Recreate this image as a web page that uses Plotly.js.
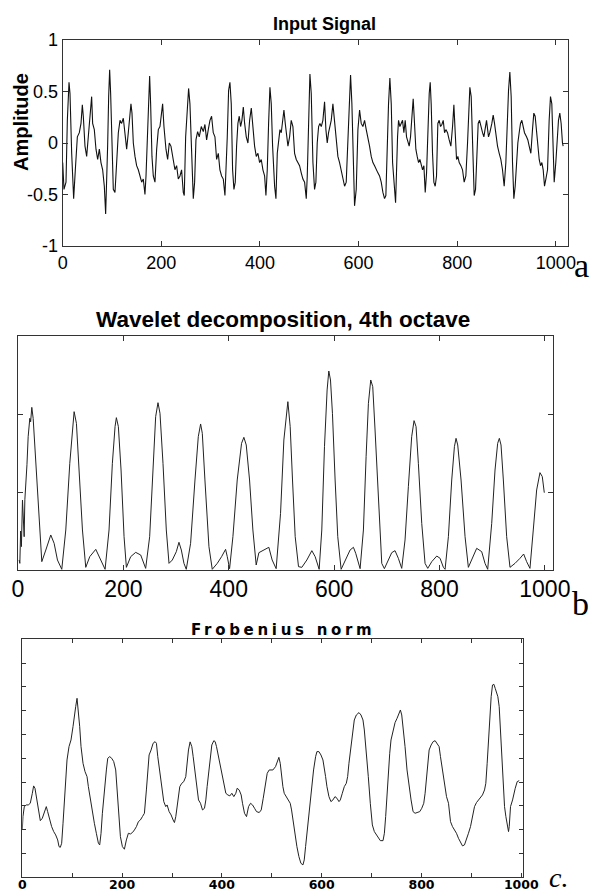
<!DOCTYPE html>
<html>
<head>
<meta charset="utf-8">
<script src="https://cdn.plot.ly/plotly-3.0.1.min.js"></script>
<style>
  html, body { margin: 0; padding: 0; background: #fff; }
  #chart { width: 590px; height: 895px; }
  .subplot.x3y3 .xtick text { letter-spacing: 3px; }
  g.annotation[data-index="3"] text { letter-spacing: 3.7px; }
</style>
</head>
<body>
<div id="chart"></div>
<script>
// ---- Panel a: input signal ----
const inputX = [0,2.6,6.7,9.4,12.8,14.8,18.2,22.2,25.6,29.7,33.7,37.1,39.8,41.8,45.2,48.6,51.9,55.3,58.7,60.7,64.1,67.5,70.9,74.3,77.6,81.0,84.4,87.1,89.1,91.1,93.2,95.2,97.2,99.3,102.6,106.0,109.4,112.8,116.2,119.5,122.9,126.3,129.7,133.0,136.4,138.4,140.5,143.2,146.6,149.9,153.3,156.7,160.1,163.4,166.8,168.9,171.6,174.3,176.3,178.3,181.0,183.7,187.1,190.5,193.9,197.2,200.6,202.6,205.3,209.4,212.8,216.1,219.5,224.3,227.6,231.0,234.4,237.8,241.1,244.5,246.5,249.3,252.6,255.3,258.0,261.4,264.8,267.5,270.2,273.6,276.9,281.0,285.1,288.4,291.8,295.2,298.6,301.9,305.3,308.7,312.1,315.5,318.8,322.2,325.6,329.0,331.0,333.7,336.4,339.1,
341.8,344.5,347.2,349.9,352.6,355.3,358.0,360.7,363.4,366.2,368.9,372.2,375.6,379.0,382.4,385.7,389.1,392.5,395.9,399.3,402.6,406.0,409.4,412.1,414.8,417.5,420.2,422.9,425.6,429.7,432.4,435.1,437.8,440.5,443.2,446.6,448.6,451.3,454.0,456.7,460.1,463.4,466.8,470.2,473.6,477.0,480.3,483.7,487.1,490.5,493.9,495.9,498.6,501.3,504.0,507.4,510.7,513.4,516.1,518.9,521.6,524.3,527.6,531.0,533.7,536.4,539.1,541.8,544.5,547.9,551.3,554.7,558.0,561.4,564.8,568.2,571.6,574.9,578.3,581.0,583.7,586.4,589.1,591.8,595.2,598.6,602.0,605.3,608.7,612.1,615.5,618.9,622.2,625.6,629.0,632.4,635.7,639.1,642.5,645.9,649.3,652.6,655.3,658.0,660.7,663.4,666.2,668.9,671.6,675.0,
679.0,681.0,683.7,686.4,689.1,691.8,694.5,697.2,699.9,702.6,705.3,708.0,710.7,713.4,716.1,718.8,721.6,724.3,727.0,729.7,732.4,735.1,737.8,740.5,743.2,745.2,747.2,749.9,752.6,755.3,758.0,760.7,763.4,766.2,768.9,771.6,774.3,777.0,780.3,783.7,787.1,790.5,793.2,795.9,798.6,801.3,804.0,807.4,810.7,814.1,817.5,820.9,823.6,825.6,828.3,831.0,834.4,837.1,839.8,842.5,845.2,847.9,851.3,854.0,856.7,859.4,863.4,866.1,870.2,872.9,875.6,878.3,881.7,885.1,888.4,891.8,895.2,898.6,901.3,904.0,906.7,909.4,912.1,914.8,917.5,920.2,922.9,925.6,928.3,931.0,933.7,936.4,940.5,943.2,945.9,949.3,952.6,955.3,958.0,960.7,963.4,966.2,968.9,971.6,974.3,977.0,979.7,983.1,986.4,989.1,991.8,994.5,996.6,999.9,1002.6,1005.3,1008.0,1010.7,1013.4,1014.8];
const inputY = [-0.19,-0.45,-0.38,0.22,0.59,0.48,-0.10,-0.54,-0.26,0.06,0.10,0.19,0.37,0.26,-0.03,-0.13,0.06,0.24,0.45,0.19,0.13,-0.06,-0.16,-0.06,-0.19,-0.26,-0.42,-0.69,-0.42,-0.03,0.45,0.71,0.48,0.06,-0.45,-0.48,-0.13,0.10,0.22,0.19,0.24,0.06,-0.06,0.10,0.26,0.38,0.29,0.0,-0.13,-0.22,-0.26,-0.32,-0.38,-0.35,-0.50,-0.32,0.06,0.38,0.65,0.38,-0.13,-0.32,-0.38,-0.06,0.13,0.16,0.32,0.38,0.16,-0.06,-0.16,0.0,-0.03,-0.19,-0.26,-0.22,-0.35,-0.32,-0.26,-0.48,-0.51,0.06,0.38,0.53,0.38,-0.06,-0.54,-0.38,0.03,0.11,0.06,0.16,0.11,0.18,0.03,0.13,0.22,0.26,0.10,0.06,-0.16,-0.10,-0.26,-0.32,-0.35,-0.51,-0.32,0.06,0.51,0.59,
0.38,-0.26,-0.45,-0.38,-0.03,0.19,0.26,0.16,0.22,0.35,0.19,0.06,0.0,0.22,0.34,0.13,-0.03,-0.13,-0.10,-0.19,-0.16,-0.26,-0.32,-0.51,-0.26,0.19,0.54,0.38,-0.03,-0.42,-0.54,-0.10,0.06,0.13,0.10,0.26,0.32,0.19,0.06,-0.03,0.06,0.22,0.16,-0.10,-0.16,-0.19,-0.22,-0.29,-0.35,-0.38,-0.54,-0.32,0.22,0.67,0.48,-0.19,-0.45,-0.38,0.0,0.16,0.19,0.16,0.22,0.40,0.13,0.0,0.10,0.16,0.22,0.38,0.19,0.06,-0.13,-0.19,-0.26,-0.32,-0.42,-0.38,0.06,0.32,0.66,0.38,-0.26,-0.61,-0.45,0.13,0.32,0.19,0.16,0.22,0.13,0.06,-0.03,-0.13,-0.19,-0.22,-0.26,-0.29,-0.32,-0.38,-0.48,-0.54,-0.51,-0.03,0.38,0.63,0.38,-0.19,-0.38,-0.58,
0.06,0.22,0.16,0.19,0.22,0.10,0.22,0.06,0.0,-0.03,0.06,0.22,0.43,0.19,-0.06,-0.13,-0.19,-0.16,-0.22,-0.26,-0.22,-0.48,-0.29,0.13,0.48,0.59,0.38,-0.10,-0.38,-0.42,-0.32,0.19,0.22,0.16,0.18,0.22,0.10,0.13,0.10,0.03,-0.03,0.16,0.37,0.10,-0.16,-0.13,-0.19,-0.22,-0.26,-0.38,-0.32,0.0,0.38,0.54,0.45,-0.03,-0.51,-0.45,-0.10,0.19,0.22,0.16,0.10,0.06,0.13,0.22,0.06,0.10,0.19,0.27,0.19,0.06,-0.03,-0.10,-0.16,-0.26,-0.42,-0.19,0.22,0.51,0.69,0.45,-0.19,-0.54,-0.42,-0.16,0.0,0.10,0.19,0.22,0.16,0.10,0.06,0.03,-0.03,-0.10,0.13,0.29,0.26,0.10,-0.06,-0.16,-0.22,-0.19,-0.26,-0.42,-0.35,-0.26,0.22,0.45,0.38,-0.13,-0.38,-0.19,0.06,0.22,0.29,0.19,0.0,-0.03];

// ---- Panel b: wavelet decomposition, 4th octave ----
const waveletX = [2.2,3.5,5,6.5,8.5,10,11.7,13,14.8,17,19.3,22.4,24,26.2,28.8,33.8,38.9,45.2,52.8,62.2,68.6,74.9,83.1,90.7,98.3,103.3,106.5,110.9,115.9,122.3,128.6,136.2,147.6,153.9,165.3,172.8,179.1,184.2,186.7,190.5,195.6,201.3,205.7,213.9,223.4,232.9,242.3,249.9,256.3,261.3,265.7,269.5,275.2,281.5,286.6,292.9,300.5,305.5,310.0,315.0,319.4,327.6,335.9,342.2,346.6,349.8,354.8,362.4,368.7,378.2,386.4,394.0,397.2,401.6,407.9,416.1,424.3,428.7,433.2,439.5,445.8,452.1,457.2,466.7,476.1,482.4,490.0,498.3,504.6,
512.2,516.6,521.0,526.1,532.4,538.7,548.2,557.7,564.0,571.6,576.6,581.7,586.7,589.9,593.1,596.8,601.9,606.9,613.3,620.9,630.3,636.6,641.0,649.3,655.6,660.7,665.1,669.5,673.3,677.7,684.0,690.4,695.4,703.0,709.3,715.6,721.9,728.3,734.6,740.9,747.2,751.7,755.5,759.9,766.3,772.6,777.7,785.3,794.8,801.1,807.4,810.6,816.9,823.2,828.3,831.4,834.6,840.9,848.5,854.8,861.1,870.6,880.1,886.4,891.5,899.1,905.4,910.4,913.6,916.8,921.2,927.5,933.8,943.3,952.8,959.7,965.4,971.7,978.0,984.4,990.7,995.1,998.9];
const waveletY = [0.128,0.085,0.5,0.3,0.897,0.6,0.427,0.9,1.068,1.35,1.709,1.944,1.90,2.085,1.944,1.368,0.684,0.107,0.256,0.449,0.342,0.128,0.009,0.513,1.368,1.795,2.030,1.880,1.282,0.513,0.034,0.171,0.265,0.171,0.009,0.513,1.368,1.838,1.953,1.838,1.282,0.427,0.034,0.171,0.226,0.192,0.021,0.427,1.368,1.966,2.145,2.009,1.368,0.513,0.085,0.128,0.235,0.355,0.256,0.085,0.009,0.342,1.154,1.709,1.872,1.752,1.154,0.299,0.009,0.085,0.171,0.265,0.171,0.017,0.427,1.154,1.624,1.701,1.603,1.154,0.513,0.064,0.222,0.256,0.291,0.128,0.017,0.726,1.667,
2.158,1.838,1.154,0.427,0.043,0.034,0.128,0.248,0.171,0.009,0.513,1.581,2.308,2.551,2.436,2.009,1.154,0.427,0.009,0.128,0.256,0.291,0.214,0.017,0.513,1.453,2.137,2.436,2.350,1.795,0.855,0.085,0.017,0.128,0.222,0.248,0.150,0.021,0.385,1.068,1.709,1.915,1.838,1.368,0.598,0.085,0.021,0.107,0.179,0.150,0.034,0.009,0.427,1.154,1.581,1.688,1.603,1.154,0.427,0.034,0.128,0.278,0.235,0.085,0.009,0.598,1.282,1.624,1.688,1.603,1.154,0.427,0.034,0.085,0.150,0.205,0.107,0.021,0.513,1.026,1.248,1.197,0.991];

// ---- Panel c: Frobenius norm ----
const frobX = [0,1.3,4.0,8.0,12.0,16.0,20.1,22.7,25.4,28.1,32.1,36.1,40.1,44.1,48.1,50.8,54.8,58.8,62.9,66.9,70.9,73.6,76.2,78.9,81.6,84.3,86.9,89.6,93.6,97.6,101.6,104.3,107.0,109.7,112.3,115.0,117.7,121.7,125.7,129.7,132.4,136.4,140.4,144.4,148.4,152.5,155.1,157.8,160.5,164.5,168.5,171.2,175.2,179.2,183.2,187.2,189.9,193.9,196.6,200.6,204.6,208.6,212.6,216.6,220.7,224.7,228.7,232.7,236.7,240.7,244.7,248.7,251.4,254.1,258.1,262.1,266.1,268.8,271.5,275.5,279.5,283.5,287.5,290.2,294.2,298.2,302.2,304.9,307.6,311.6,315.6,319.6,323.6,327.6,330.3,333.0,336.3,339.7,342.4,346.4,350.4,353.1,357.1,361.1,365.1,367.8,370.4,374.5,377.1,379.8,383.8,386.5,389.2,393.2,397.2,401.2,403.9,407.9,411.9,415.9,419.9,423.9,427.9,430.6,434.6,438.6,441.3,445.3,449.3,453.4,457.4,461.4,465.4,469.4,474.8,478.8,482.8,486.8,490.8,494.8,
502.2,507.5,511.5,514.2,516.9,519.5,522.2,524.9,528.9,532.9,536.9,539.6,542.3,546.3,550.3,554.3,558.3,562.4,565.0,567.7,571.7,575.7,579.7,583.7,587.8,590.4,594.4,598.5,602.5,605.2,607.8,610.5,614.5,618.5,622.5,626.6,630.6,634.6,637.3,641.3,645.3,649.3,652.0,654.6,658.6,662.7,665.3,669.4,674.7,678.7,682.7,685.4,689.4,693.4,697.4,701.5,705.5,709.5,713.5,717.5,722.9,725.6,728.2,730.9,733.6,736.3,738.9,742.9,747.0,751.0,755.0,757.7,760.4,763.0,767.0,771.0,775.1,779.1,783.1,787.1,791.1,796.5,800.5,804.5,807.2,809.9,812.6,815.3,819.3,823.3,827.3,831.3,835.3,838.0,842.0,846.1,850.1,854.1,858.1,862.1,866.1,870.1,874.1,878.1,882.1,886.1,890.1,894.1,898.2,902.2,906.2,910.2,914.2,918.2,922.2,926.3,928.9,931.6,934.3,936.9,939.6,942.3,945.0,947.7,950.3,953.0,955.7,958.4,961.0,963.7,966.4,969.1,971.7,974.4,975.8,978.4,982.5,985.1,987.8,991.8,995.8];
const frobY = [1.99,2.55,2.97,3.04,3.04,3.11,3.53,3.84,3.74,3.39,2.83,2.38,2.48,2.69,2.97,2.76,2.41,2.13,1.92,1.78,1.57,1.29,1.26,1.43,2.27,3.11,3.95,4.93,5.49,5.77,6.33,6.89,7.17,7.52,7.03,6.33,5.49,4.79,4.44,4.23,3.81,3.25,2.83,2.27,1.85,1.43,1.36,1.85,2.69,3.81,4.51,5.00,5.07,5.00,4.86,4.51,3.67,2.55,1.71,1.29,1.18,1.57,1.85,1.82,1.88,1.99,2.13,2.34,2.41,2.55,2.69,3.67,4.51,5.14,5.35,5.63,5.70,5.63,5.07,4.37,3.67,3.18,2.97,3.04,2.76,2.62,2.41,2.30,2.55,3.11,3.81,3.95,4.02,4.23,4.79,5.35,5.69,5.49,5.07,4.37,3.67,3.25,3.11,2.83,2.90,3.25,3.81,4.51,5.07,5.56,5.74,5.70,5.49,5.07,4.65,4.16,3.81,3.53,3.46,3.42,3.53,3.39,3.53,3.74,3.67,3.46,3.11,2.69,2.55,2.97,3.11,3.04,2.90,2.76,2.72,2.83,3.32,3.95,4.37,4.51,
4.51,4.65,4.86,5.04,4.79,4.23,3.81,3.53,3.39,3.25,3.11,2.83,2.41,1.85,1.29,0.87,0.59,0.52,0.73,1.29,2.13,2.97,3.81,4.51,5.07,5.28,5.28,5.14,4.93,4.65,4.23,3.81,3.39,3.18,3.25,3.39,3.32,3.18,3.25,3.53,3.81,3.95,4.23,4.79,5.49,6.19,6.61,6.82,6.92,6.82,6.61,6.19,5.35,4.23,3.11,2.20,1.92,1.78,1.64,1.54,1.54,1.85,2.55,3.53,4.51,5.21,5.77,6.19,6.50,6.68,6.89,7.03,6.82,6.33,5.49,4.51,3.81,3.25,2.76,2.69,2.72,2.76,2.90,3.11,3.53,4.09,4.79,5.35,5.56,5.70,5.74,5.63,5.49,5.07,4.51,3.95,3.39,3.11,2.34,2.13,1.99,1.85,1.64,1.46,1.32,1.36,1.57,1.85,2.13,2.55,2.97,3.14,3.25,3.32,3.46,3.67,3.95,4.79,5.91,7.03,7.59,8.08,8.11,7.94,7.80,7.59,7.17,6.19,5.07,4.09,2.97,2.55,2.13,1.92,2.13,2.97,3.25,3.53,3.74,4.02,4.06];

// ---- Ticks ----
const xTicksA = [0,200,400,600,800,1000];
const yTicksA = [-1,-0.5,0,0.5,1];
const yTickTextA = ['-1','-0.5','0','0.5','1'];
const xTicksB = [0,200,400,600,800,1000];
const yTicksB = [0,1,2,3];
const xTicksC = [0,100,200,300,400,500,600,700,800,900,1000];
const xTickTextC = ['0','','200','','400','','600','','800','','1000'];
const yTicksC = [0,1,2,3,4,5,6,7,8,9,10];

const frame = '#333';
function ax(extra) {
  return Object.assign({
    showline: true, linecolor: frame, linewidth: 1, mirror: 'ticks',
    ticks: 'inside', tickcolor: frame, ticklen: 5, tickwidth: 1,
    showgrid: false, zeroline: false, fixedrange: true,
    tickfont: {family: 'Liberation Sans, Arial, sans-serif', size: 18, color: '#000'}
  }, extra);
}

const traces = [
  {x: inputX, y: inputY, xaxis: 'x', yaxis: 'y', type: 'scatter', mode: 'lines',
   line: {color: '#111', width: 1.1}, hoverinfo: 'skip'},
  {x: waveletX, y: waveletY, xaxis: 'x2', yaxis: 'y2', type: 'scatter', mode: 'lines',
   line: {color: '#222', width: 1}, hoverinfo: 'skip'},
  {x: frobX, y: frobY, xaxis: 'x3', yaxis: 'y3', type: 'scatter', mode: 'lines',
   line: {color: '#222', width: 1}, hoverinfo: 'skip'}
];

const W = 590, H = 895;
const px = v => v / W, py = v => 1 - v / H;

const layout = {
  width: W, height: H, showlegend: false,
  margin: {l: 0, r: 0, t: 0, b: 0, pad: 0},
  paper_bgcolor: '#fff', plot_bgcolor: '#fff',
  xaxis: ax({domain: [px(62.7), px(567.7)], range: [0, 1024], anchor: 'y',
    tickmode: 'array', tickvals: xTicksA, ticklabelstandoff: 0}),
  yaxis: ax({domain: [py(246), py(40)], range: [-1, 1], anchor: 'x',
    tickmode: 'array', tickvals: yTicksA, ticktext: yTickTextA}),
  xaxis2: ax({domain: [px(18), px(553.3)], range: [0, 1016], anchor: 'y2',
    tickmode: 'array', tickvals: xTicksB, ticklabelstandoff: -2,
    tickfont: {family: 'Liberation Sans, Arial, sans-serif', size: 23, color: '#000'}}),
  yaxis2: ax({domain: [py(570), py(336)], range: [0, 3], anchor: 'x2',
    tickmode: 'array', tickvals: yTicksB, showticklabels: false}),
  xaxis3: ax({domain: [px(22.3), px(523.3)], range: [0, 1004], anchor: 'y3',
    tickmode: 'array', tickvals: xTicksC, ticktext: xTickTextC, ticklen: 4, ticklabelstandoff: -4,
    tickfont: {family: 'DejaVu Sans, sans-serif', size: 12.5, color: '#000', weight: 'bold'}}),
  yaxis3: ax({domain: [py(877.3), py(639.3)], range: [0, 10], anchor: 'x3', ticklen: 4,
    tickmode: 'array', tickvals: yTicksC, showticklabels: false}),
  annotations: [
    {text: 'Input Signal', x: px(324), y: py(23.8), xref: 'paper', yref: 'paper',
     showarrow: false, xanchor: 'center', yanchor: 'middle',
     font: {family: 'Liberation Sans, Arial, sans-serif', size: 18, color: '#000', weight: 'bold'}},
    {text: 'Amplitude', x: px(21), y: py(122), xref: 'paper', yref: 'paper', textangle: -90,
     showarrow: false, xanchor: 'center', yanchor: 'middle',
     font: {family: 'Liberation Sans, Arial, sans-serif', size: 20, color: '#000', weight: 'bold'}},
    {text: 'Wavelet decomposition, 4th octave', x: px(283), y: py(319.2), xref: 'paper', yref: 'paper',
     showarrow: false, xanchor: 'center', yanchor: 'middle',
     font: {family: 'Liberation Sans, Arial, sans-serif', size: 22.5, color: '#000', weight: 'bold'}},
    {text: 'Frobenius norm', x: px(283.9), y: py(629.8), xref: 'paper', yref: 'paper',
     showarrow: false, xanchor: 'center', yanchor: 'middle',
     font: {family: 'DejaVu Sans, sans-serif', size: 15, color: '#000', weight: 'bold'}},
    {text: 'a', x: px(581), y: py(265.5), xref: 'paper', yref: 'paper',
     showarrow: false, xanchor: 'center', yanchor: 'middle',
     font: {family: 'Liberation Serif, Times New Roman, serif', size: 34, color: '#000'}},
    {text: 'b', x: px(580.5), y: py(603.5), xref: 'paper', yref: 'paper',
     showarrow: false, xanchor: 'center', yanchor: 'middle',
     font: {family: 'Liberation Serif, Times New Roman, serif', size: 34, color: '#000'}},
    {text: 'c.', x: px(558), y: py(877), xref: 'paper', yref: 'paper',
     showarrow: false, xanchor: 'center', yanchor: 'middle', borderpad: 0,
     font: {family: 'Liberation Serif, Times New Roman, serif', size: 28, color: '#000', style: 'italic'}}
  ]
};

Plotly.newPlot('chart', traces, layout, {staticPlot: true, displayModeBar: false});
</script>
</body>
</html>
